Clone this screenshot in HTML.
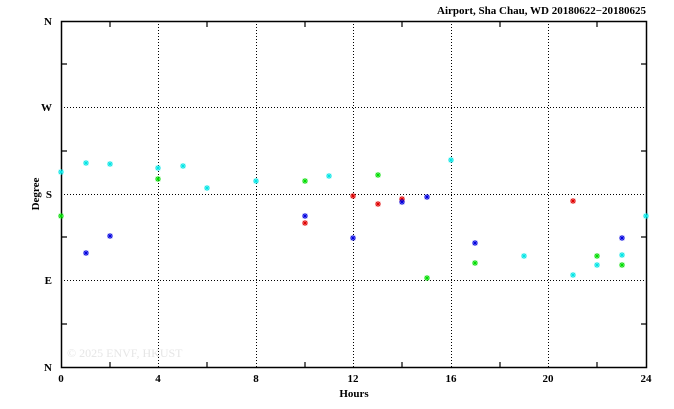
<!DOCTYPE html>
<html><head><style>body{margin:0;background:#fff}svg{display:block}</style></head><body>
<svg width="674" height="409" xmlns="http://www.w3.org/2000/svg" font-family="Liberation Serif, serif" font-weight="bold" font-size="11">
<defs><g id="m"><path d="M-3,0H3M0,-3V3M-2.2,-2.2L2.2,2.2M-2.2,2.2L2.2,-2.2" stroke-width="1"/></g></defs>
<g stroke="#000" stroke-width="1" stroke-dasharray="1,2">
<line x1="158.5" y1="21" x2="158.5" y2="367"/><line x1="256.5" y1="21" x2="256.5" y2="367"/><line x1="353.5" y1="21" x2="353.5" y2="367"/><line x1="451.5" y1="21" x2="451.5" y2="367"/><line x1="548.5" y1="21" x2="548.5" y2="367"/>
<line x1="61" y1="107.5" x2="646" y2="107.5"/><line x1="61" y1="194.5" x2="646" y2="194.5"/><line x1="61" y1="280.5" x2="646" y2="280.5"/>
</g>
<g stroke="#000" stroke-width="1.2">
<rect x="61.5" y="21.5" width="585" height="346" fill="none" stroke-width="1.5"/>
<path d="M110,22v5M110,367v-5M207,22v5M207,367v-5M305,22v5M305,367v-5M402,22v5M402,367v-5M500,22v5M500,367v-5M597,22v5M597,367v-5M62,64h5M646,64h-5M62,151h5M646,151h-5M62,237h5M646,237h-5M62,324h5M646,324h-5"/>
</g>
<text x="52" y="25" text-anchor="end">N</text><text x="52" y="111" text-anchor="end">W</text><text x="52" y="198" text-anchor="end">S</text><text x="52" y="284" text-anchor="end">E</text><text x="52" y="371" text-anchor="end">N</text>
<g text-anchor="middle"><text x="61" y="382">0</text><text x="158" y="382">4</text><text x="256" y="382">8</text><text x="353" y="382">12</text><text x="451" y="382">16</text><text x="548" y="382">20</text><text x="646" y="382">24</text>
<text x="354" y="397">Hours</text></g>
<text x="646" y="14" text-anchor="end">Airport, Sha Chau, WD 20180622−20180625</text>
<text transform="translate(39,194) rotate(-90)" text-anchor="middle">Degree</text>
<text x="67" y="357" font-weight="normal" font-size="12" fill="#e6e6e6">© 2025  ENVF, HKUST</text>
<g stroke="#00e5e5">
<use href="#m" x="61" y="172"/><use href="#m" x="86" y="163"/><use href="#m" x="110" y="164"/><use href="#m" x="158" y="168"/><use href="#m" x="183" y="166"/><use href="#m" x="207" y="188"/><use href="#m" x="256" y="181"/><use href="#m" x="329" y="176"/><use href="#m" x="451" y="160"/><use href="#m" x="524" y="256"/><use href="#m" x="573" y="275"/><use href="#m" x="597" y="265"/><use href="#m" x="622" y="255"/><use href="#m" x="646" y="216"/>
</g>
<g stroke="#00dd00">
<use href="#m" x="61" y="216"/><use href="#m" x="158" y="179"/><use href="#m" x="305" y="181"/><use href="#m" x="378" y="175"/><use href="#m" x="427" y="278"/><use href="#m" x="475" y="263"/><use href="#m" x="597" y="256"/><use href="#m" x="622" y="265"/>
</g>
<g stroke="#e00000">
<use href="#m" x="305" y="223"/><use href="#m" x="353" y="196"/><use href="#m" x="378" y="204"/><use href="#m" x="402" y="199"/><use href="#m" x="573" y="201"/>
</g>
<g stroke="#0000e0">
<use href="#m" x="86" y="253"/><use href="#m" x="110" y="236"/><use href="#m" x="305" y="216"/><use href="#m" x="353" y="238"/><use href="#m" x="402" y="202"/><use href="#m" x="427" y="197"/><use href="#m" x="475" y="243"/><use href="#m" x="622" y="238"/>
</g>
</svg>
</body></html>
